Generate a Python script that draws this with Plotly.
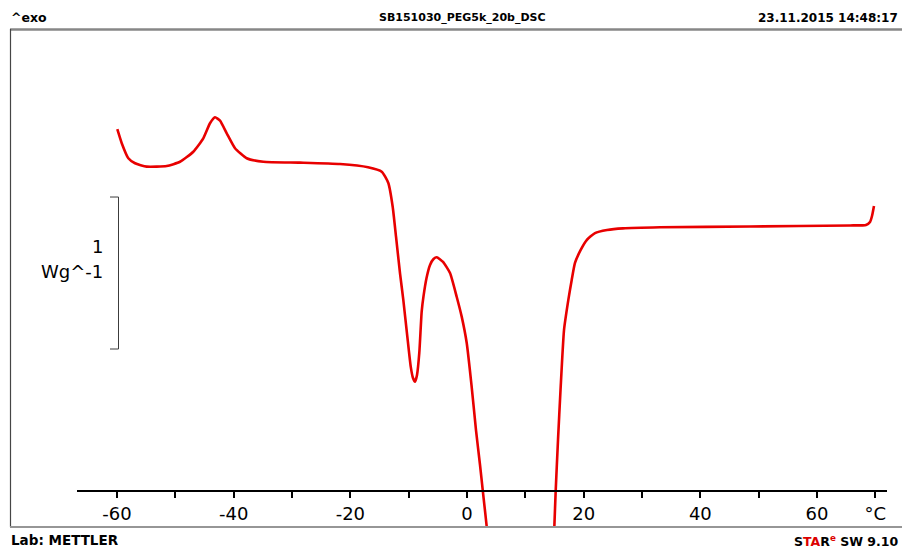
import plotly.graph_objects as go

# ---- data (temperature in °C, heat flow in W/g, relative offset) ----
temp_a = [-59.95, -59.19, -58.06, -56.91, -54.91, -51.48, -49.20, -46.92, -45.21, -44.06,
          -43.20, -42.34, -41.19, -39.77, -37.77, -34.92, -28.63, -21.77, -16.97, -14.62,
          -13.49, -12.74, -12.17, -11.49, -10.92, -10.23, -9.65, -9.26, -8.91, -8.57,
          -8.18, -7.77, -7.46, -6.94, -6.34, -5.74, -5.19, -4.11, -2.91, -1.77, -0.91, -0.05,
          0.77, 1.54, 2.23, 2.69, 3.38, 3.55]
flow_a = [2.380, 2.288, 2.189, 2.156, 2.134, 2.138, 2.166, 2.232, 2.320, 2.419,
          2.459, 2.436, 2.353, 2.255, 2.189, 2.166, 2.160, 2.151, 2.130, 2.101,
          2.026, 1.870, 1.673, 1.434, 1.257, 1.015, 0.818, 0.743, 0.719, 0.763,
          0.908, 1.180, 1.280, 1.401, 1.487, 1.526, 1.538, 1.507, 1.434, 1.278, 1.147, 0.974,
          0.697, 0.401, 0.171, 0.007, -0.237, -0.35]
temp_b = [14.85, 14.97, 15.21, 15.60, 16.03, 16.63, 17.37, 17.95, 18.51, 19.49,
          20.52, 21.94, 24.00, 26.74, 33.09, 48.51, 65.66, 68.40, 69.09, 69.43, 69.77]
flow_b = [-0.35, -0.237, 0.007, 0.336, 0.664, 1.059, 1.257, 1.388, 1.500, 1.586,
          1.651, 1.697, 1.717, 1.728, 1.735, 1.740, 1.747, 1.750, 1.770, 1.809, 1.875]

tick_vals = [-60, -50, -40, -30, -20, -10, 0, 10, 20, 30, 40, 50, 60, 70]
tick_text = ["-60", " ", "-40", " ", "-20", " ", "0", " ", "20", " ", "40", " ", "60", "°C"]
x_range = [-66.86, 72.0]
y_range = [-0.237, 3.046]
scale_bar = [0.934, 1.934]   # 1 W/g

title_text = "SB151030_PEG5k_20b_DSC"
date_text = "23.11.2015 14:48:17"

W, H = 902, 550
def px(x):
    return x / W
def py(y):
    return 1 - y / H

red = "rgb(232,0,0)"

fig = go.Figure()
fig.add_trace(go.Scatter(
    x=temp_a + [None] + temp_b,
    y=flow_a + [None] + flow_b,
    mode="lines",
    line=dict(color=red, width=2.6, shape="spline", smoothing=0.5),
    connectgaps=False,
    hoverinfo="skip",
    showlegend=False,
))

font_reg = "DejaVu Sans"
fig.update_layout(
    width=W, height=H, autosize=False,
    margin=dict(l=0, r=0, t=0, b=0),
    paper_bgcolor="white", plot_bgcolor="white",
    xaxis=dict(
        domain=[px(77), px(887)], range=x_range,
        anchor="free", position=py(491),
        showline=True, linecolor="black", linewidth=2,
        ticks="outside", ticklen=6, tickwidth=2, tickcolor="black",
        tickmode="array", tickvals=tick_vals, ticktext=tick_text,
        tickfont=dict(family=font_reg, size=18, color="black"),
        showgrid=False, zeroline=False, fixedrange=True,
    ),
    yaxis=dict(
        domain=[py(527), py(28)], range=y_range,
        visible=False, showgrid=False, zeroline=False, fixedrange=True,
    ),
)

shapes = [
    # header line
    dict(type="line", xref="paper", yref="paper", x0=px(10), x1=1, y0=py(29.5), y1=py(29.5),
         line=dict(color="rgb(135,135,135)", width=2.5)),
    # left frame line
    dict(type="line", xref="paper", yref="paper", x0=px(10.5), x1=px(10.5), y0=py(29), y1=py(527),
         line=dict(color="rgb(70,70,70)", width=1.2)),
    # bottom line
    dict(type="line", xref="paper", yref="paper", x0=px(10), x1=1, y0=py(527), y1=py(527),
         line=dict(color="rgb(150,150,150)", width=2)),
    # scale bracket (1 W/g)
    dict(type="path", xref="paper", yref="y",
         path=f"M {px(110)} {scale_bar[1]} L {px(118.5)} {scale_bar[1]} L {px(118.5)} {scale_bar[0]} L {px(110)} {scale_bar[0]}",
         line=dict(color="rgb(60,60,60)", width=1)),
]
fig.update_layout(shapes=shapes)

bold = "DejaVu Sans"
ann = [
    dict(text="<b>^exo</b>", x=px(10), y=py(17.5), xanchor="left", yanchor="middle",
         font=dict(family=bold, size=12.5, color="black")),
    dict(text=f"<b>{title_text}</b>", x=px(462), y=py(17.5), xanchor="center", yanchor="middle",
         font=dict(family=bold, size=11, color="black")),
    dict(text=f"<b>{date_text}</b>", x=px(899), y=py(17.5), xanchor="right", yanchor="middle",
         font=dict(family=bold, size=12, color="black")),
    dict(text="<b>Lab: METTLER</b>", x=px(10), y=py(540), xanchor="left", yanchor="middle",
         font=dict(family=bold, size=13.5, color="black")),
    dict(text="<b>S<span style='color:rgb(220,0,0)'>TA</span>R<sup><span style='color:rgb(220,0,0)'>e</span></sup> SW 9.10</b>",
         x=px(899), y=py(540.5), xanchor="right", yanchor="middle",
         font=dict(family=bold, size=12.5, color="black")),
    dict(text="1", x=px(104), y=py(246), xanchor="right", yanchor="middle",
         font=dict(family=font_reg, size=18, color="black")),
    dict(text="Wg^-1", x=px(104), y=py(271), xanchor="right", yanchor="middle",
         font=dict(family=font_reg, size=18, color="black")),
]
for a in ann:
    a.update(xref="paper", yref="paper", showarrow=False, borderpad=0)
fig.update_layout(annotations=ann)

fig.write_html(
    "out.html",
    config={"displayModeBar": False, "staticPlot": True},
    post_script="document.body.style.margin='0';document.body.style.padding='0';document.body.style.overflow='hidden';",
)
